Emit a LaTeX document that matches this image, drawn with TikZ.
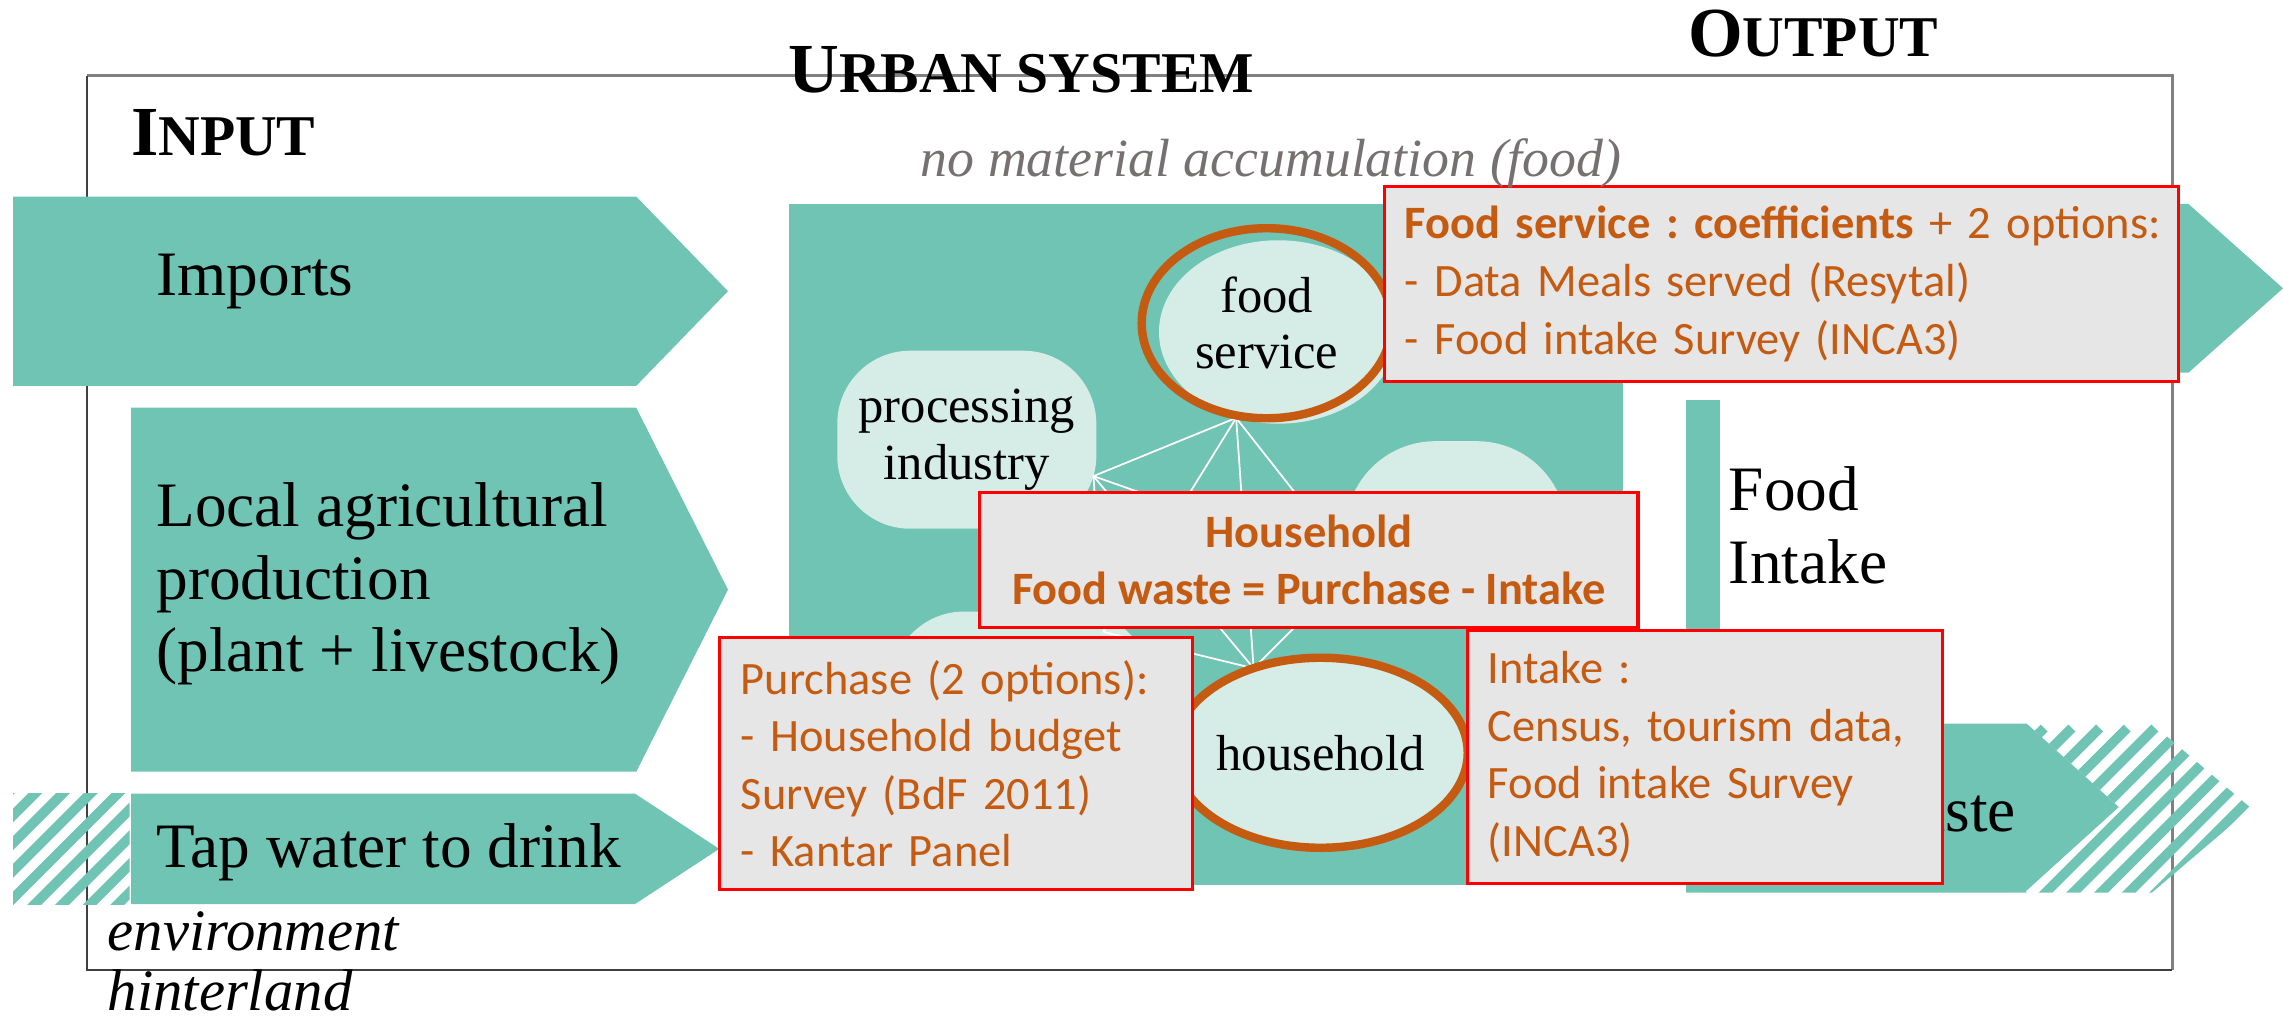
\documentclass[tikz,border=0pt]{standalone}
\usepackage{fontspec}
\setmainfont{Liberation Serif}
\newfontfamily\calibri{Carlito}
\usetikzlibrary{shapes,arrows,positioning}

\definecolor{flowteal}{RGB}{112,196,179}
\definecolor{blobpale}{RGB}{213,236,231}
\definecolor{ringorange}{RGB}{197,90,17}
\definecolor{notegray}{RGB}{231,230,230}
\definecolor{notered}{RGB}{255,0,0}
\definecolor{frameline}{RGB}{128,128,128}
\definecolor{softgray}{RGB}{118,113,113}

\begin{document}
\begin{tikzpicture}[x=0.01456cm,y=-0.01456cm,
  flow/.style={fill=flowteal},
  stripe/.style={draw=flowteal,line width=2.8pt},
  web/.style={draw=white,line width=0.5pt},
  blob/.style={fill=blobpale,rounded corners=0.73cm,inner sep=0,align=center,font=\fontsize{14.4}{16}\selectfont},
  ring/.style={ellipse,draw=ringorange,line width=2.4pt,inner sep=0,align=center,font=\fontsize{14.4}{16}\selectfont},
  note/.style={draw=notered,fill=notegray,line width=0.9pt,text=ringorange,inner ysep=0,inner xsep=0.2cm,align=left,font=\calibri\frenchspacing\fontsize{13.2}{16.4}\selectfont},
  flowtext/.style={inner sep=0,align=left,font=\fontsize{18}{20.7}\selectfont},
  headtext/.style={inner sep=0,font=\bfseries}
]
\useasboundingbox (0,0) rectangle (1568,701);

% system boundary
\draw[frameline,line width=0.8pt] (60,52) -- (1492,52) -- (1492,666);
\draw[black!75,line width=0.5pt] (60,52) -- (60,666) -- (1492,666);

% inputs
\begin{scope}
  \clip (9,545) rectangle (89,621);
  \foreach \k in {-80,-61,...,100} \draw[stripe] (\k,630) -- ++(100,-100);
\end{scope}
\fill[flow] (9,135) -- (437,135) -- (500,200) -- (437,265) -- (9,265) -- cycle;
\fill[flow] (90,280) -- (437,280) -- (500,405) -- (437,530) -- (90,530) -- cycle;
\fill[flow] (90,545) -- (436,545) -- (494,583) -- (436,621) -- (90,621) -- cycle;
\node[flowtext,anchor=base west] (imports) at (107,203) {Imports};
\node[flowtext,anchor=west] (localprod) at (107,401) {Local agricultural\\production\\(plant + livestock)};
\node[flowtext,anchor=base west] (tapwater) at (107,596) {Tap water to drink};

% urban system
\fill[flow] (542,140) rectangle (1115,608);
\node[blob,minimum width=2.59cm,minimum height=1.78cm] (processing) at (664,302) {processing\\industry};
\fill[blobpale,rounded corners=0.9cm] (924,303) rectangle (1076,430);
\fill[blobpale,rounded corners=0.73cm] (612,420) rectangle (790,540);

\coordinate (fsfoot) at (849,287);
\coordinate (procside) at (751,327);
\coordinate (lowblob) at (758,434);
\coordinate (hhtop) at (861,459);
\coordinate (rightblob) at (930,390);
\foreach \a/\b in {fsfoot/procside,fsfoot/lowblob,fsfoot/hhtop,fsfoot/rightblob,
  procside/lowblob,procside/hhtop,procside/rightblob,lowblob/hhtop,hhtop/rightblob}
  \draw[web] (\a) -- (\b);

\fill[blobpale] (878,228) ellipse (82 and 63);
\node[ring,minimum width=2.5cm,minimum height=1.9cm] (foodsvc) at (870,222) {food\\service};
\node[ring,fill=blobpale,minimum width=2.55cm,minimum height=1.9cm] (household) at (907,517) {household};

% outputs
\fill[flow] (1115,140) -- (1503,140) -- (1568,198) -- (1503,256) -- (1115,256) -- cycle;
\fill[flow] (1158,275) rectangle (1181,497);
\begin{scope}
  \clip (1392,497) -- (1478,497) -- (1546,555) -- (1478,613) -- (1392,613) -- (1456,555) -- cycle;
  \foreach \k in {1255,1274,...,1540} \draw[stripe] (\k,630) -- ++(130,-130);
\end{scope}
\fill[flow] (1158,497) -- (1392,497) -- (1456,555) -- (1392,613) -- (1158,613) -- cycle;
\draw[white,line width=0.8pt] (1456,555) -- (1392,613);
\node[flowtext,anchor=west] (foodintake) at (1187,361) {Food\\Intake};
\node[flowtext,anchor=base west] (foodwaste) at (1185,571) {Food waste};

% data sources
\node[note,minimum width=7.94cm,minimum height=1.95cm,text width=7.53cm] (servicenote) at (1223.5,195)
  {\mbox{\textbf{Food service : coefficients} + 2 options:}\\- Data Meals served (Resytal)\\- Food intake Survey (INCA3)};
\node[note,align=center,font=\calibri\frenchspacing\bfseries\fontsize{13.2}{16.4}\selectfont,minimum width=6.58cm,minimum height=1.354cm] (hhnote) at (899,384.5)
  {Household\\Food waste = Purchase - Intake};
\node[note,minimum width=4.73cm,minimum height=2.52cm,text width=4.30cm] (purchasenote) at (656.5,524.5)
  {Purchase (2 options):\\- Household budget\\Survey (BdF 2011)\\- Kantar Panel};
\node[note,minimum width=4.75cm,minimum height=2.53cm,text width=4.34cm] (intakenote) at (1171,520)
  {Intake :\\Census, tourism data,\\Food intake Survey\\(INCA3)};

% headings
\node[headtext,anchor=base west] (inputhead) at (89.5,107) {\fontsize{20}{24}\selectfont I\fontsize{16.4}{20}\selectfont NPUT};
\node[headtext,anchor=base west] (urbanhead) at (541,63.6) {\fontsize{20}{24}\selectfont U\fontsize{16.4}{20}\selectfont RBAN SYSTEM};
\node[headtext,anchor=base west] (outputhead) at (1159,39) {\fontsize{20}{24}\selectfont O\fontsize{16.4}{20}\selectfont UTPUT};
\node[inner sep=0,anchor=base,text=softgray,font=\itshape\fontsize{15.3}{18}\selectfont] (noaccum) at (873,121) {no material accumulation (food)};
\node[inner sep=0,anchor=base west,font=\itshape\fontsize{16.7}{20}\selectfont] (environment) at (73.5,653) {environment};
\node[inner sep=0,anchor=base west,font=\itshape\fontsize{16.7}{20}\selectfont] (hinterland) at (73.5,694) {hinterland};
\end{tikzpicture}
\end{document}
